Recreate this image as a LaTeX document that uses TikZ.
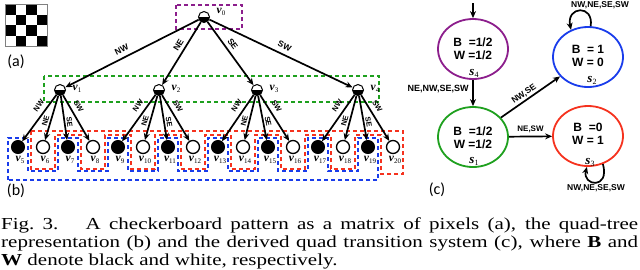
\documentclass[tikz,border=0pt]{standalone}
\usepackage{fontspec}
\setmainfont{Liberation Serif}
\newfontfamily\lsans{Liberation Sans}
\newfontfamily\carl{Carlito}
\usetikzlibrary{arrows.meta,shapes.geometric}
\definecolor{cpurple}{RGB}{140,30,140}
\definecolor{cgreen}{RGB}{30,160,30}
\definecolor{cblue}{RGB}{25,60,235}
\definecolor{cred}{RGB}{245,50,30}
\newcommand{\vlab}[1]{{\fontsize{11.5}{11.5}\selectfont\bfseries\itshape v}\raisebox{-1.8pt}{\fontsize{7}{7}\selectfont #1}}
\newcommand{\slab}[1]{{\fontsize{13}{13}\selectfont\bfseries\itshape s}\raisebox{-2pt}{\fontsize{8}{8}\selectfont #1}}
\tikzset{
  edgearr/.style={-{Stealth[length=7pt,width=6pt]}, line width=1.7pt},
  lbl/.style={font=\lsans\bfseries\fontsize{8.5}{8.5}\selectfont, sloped, above=1pt, inner sep=0.5pt},
  slbl/.style={font=\lsans\bfseries\fontsize{7.5}{7.5}\selectfont, sloped, above=1pt, inner sep=0.5pt},
  innernode/.style={circle, draw, line width=1pt, fill=white, minimum size=11pt, inner sep=0pt,
     path picture={\fill[black] (path picture bounding box.west) rectangle (path picture bounding box.south east);}},
  bleaf/.style={circle, draw, line width=1pt, fill=black, minimum size=13pt, inner sep=0pt},
  wleaf/.style={circle, draw, line width=1.3pt, fill=white, minimum size=13pt, inner sep=0pt},
  dbox/.style={dash pattern=on 4pt off 3pt, line width=1.8pt},
  state/.style={ellipse, draw, line width=1.8pt, minimum width=70pt, minimum height=60pt, inner sep=0pt},
  stxt/.style={align=center, font=\lsans\bfseries\fontsize{12}{13}\selectfont, inner sep=0pt},
  tlbl/.style={font=\lsans\bfseries\fontsize{8.5}{8.5}\selectfont, inner sep=0.5pt},
  plbl/.style={font=\carl\fontsize{16}{16}\selectfont, inner sep=0pt},
  vtxt/.style={inner sep=0pt}
}
\begin{document}
\begin{tikzpicture}[x=1pt,y=-1pt]
\useasboundingbox (0,0) rectangle (640,269);
% (a) checkerboard
\foreach \r in {0,...,3}{
  \foreach \c in {0,...,3}{
    \pgfmathtruncatemacro\s{\r+\c}
    \ifodd\s\else
      \fill[black] (5+10.5*\c,4+10.5*\r) rectangle ++(10.5,10.5);
    \fi
  }
}
\draw[gray, line width=0.6pt] (5,4) rectangle (47,46);
\node[plbl] (la) at (16,62) {(a)};
% dashed boxes
\draw[dbox, cpurple] (176,5) rectangle (242,29);
\draw[dbox, cgreen] (44,76) rectangle (379,102);
\draw[dbox, cblue] (8,180) -- (8,138) -- (28,138) -- (28,171) -- (58,171) -- (58,138) -- (78,138) -- (78,171) -- (108,171) -- (108,138) -- (128,138) -- (128,171) -- (158,171) -- (158,138) -- (178,138) -- (178,171) -- (208,171) -- (208,138) -- (228,138) -- (228,171) -- (258,171) -- (258,138) -- (278,138) -- (278,171) -- (308,171) -- (308,138) -- (328,138) -- (328,171) -- (358,171) -- (358,138) -- (378,138) -- (378,180) -- cycle;
\draw[dbox, cred] (31,131) -- (403,131) -- (403,174) -- (381,174) -- (381,135) -- (355,135) -- (355,169) -- (331,169) -- (331,135) -- (305,135) -- (305,169) -- (281,169) -- (281,135) -- (255,135) -- (255,169) -- (231,169) -- (231,135) -- (205,135) -- (205,169) -- (181,169) -- (181,135) -- (155,135) -- (155,169) -- (131,169) -- (131,135) -- (105,135) -- (105,169) -- (81,169) -- (81,135) -- (55,135) -- (55,169) -- (31,169) -- cycle;
% tree nodes
\node[innernode] (v0) at (204,17) {};
\node[vtxt] (l0) at (221,12) {\vlab{0}};
\node[innernode] (v1) at (60,90) {};
\node[innernode] (v2) at (159,90) {};
\node[innernode] (v3) at (257,90) {};
\node[innernode] (v4) at (358,90) {};
\foreach \i/\x in {1/60,2/159,3/257,4/358}{
  \node[vtxt] (l\i) at (\x+17,89) {\vlab{\i}};
}
\foreach \i in {5,...,20}{
  \ifodd\i\def\lst{bleaf}\else\def\lst{wleaf}\fi
  \node[\lst] (v\i) at (18+25*\i-125,147) {};
  \node[vtxt] (l\i) at (20+25*\i-125,160) {\vlab{\i}};
}
% top edges
\draw[edgearr] (v0) -- node[lbl,pos=.55,above=3pt]{NW} (v1);
\draw[edgearr] (v0) -- node[lbl,pos=.42,above=2pt]{NE} (v2);
\draw[edgearr] (v0) -- node[lbl,pos=.42,above=2pt]{SE} (v3);
\draw[edgearr] (v0) -- node[lbl,pos=.5,above=3pt]{SW} (v4);
% second level edges
\foreach \p in {1,...,4}{
  \pgfmathtruncatemacro\ca{4*\p+1}
  \pgfmathtruncatemacro\cb{4*\p+2}
  \pgfmathtruncatemacro\cc{4*\p+3}
  \pgfmathtruncatemacro\cd{4*\p+4}
  \draw[edgearr] (v\p) -- node[slbl,pos=.33,above=3pt]{NW} (v\ca);
  \draw[edgearr] (v\p) -- node[slbl,pos=.6]{NE} (v\cb);
  \draw[edgearr] (v\p) -- node[slbl,pos=.6]{SE} (v\cc);
  \draw[edgearr] (v\p) -- node[slbl,pos=.33,above=3pt]{SW} (v\cd);
}
\node[plbl] (lb) at (16,191) {(b)};
% (c) transition system
\node[state, draw=cpurple] (s4) at (473,49) {};
\node[state, draw=cgreen] (s1) at (473,137) {};
\node[state, draw=cblue] (s2) at (588,57) {};
\node[state, draw=cred] (s3) at (588,136) {};
\node[stxt] (t4) at (473,49) {B\ \ =1/2\\W =1/2};
\node[stxt] (t1) at (473,138) {B\ \ =1/2\\W =1/2};
\node[stxt] (t2) at (588,56) {B\ \ = 1\\W = 0};
\node[stxt] (t3) at (588,134) {B\ \ =0\\W = 1};
\node[vtxt] (ls4) at (474,73) {\slab{4}};
\node[vtxt] (ls1) at (474,161) {\slab{1}};
\node[vtxt] (ls2) at (592,80) {\slab{2}};
\node[vtxt] (ls3) at (590,162) {\slab{3}};
\coordinate (start) at (473,3);
\draw[edgearr] (start) -- (s4);
\draw[edgearr] (s4) -- node[tlbl, pos=.35, left=3pt, font=\lsans\bfseries\fontsize{9}{9}\selectfont]{NE,NW,SE,SW} (s1);
\draw[edgearr] (s1) -- node[tlbl, sloped, above=1pt, pos=.45]{NW,SE} (s2);
\draw[edgearr] (s1) -- node[tlbl, above=2pt, font=\lsans\bfseries\fontsize{8}{8}\selectfont]{NE,SW} (s3);
\draw[edgearr] (s2.85) .. controls (594,4) and (566,6) .. (s2.122);
\node[tlbl] (lp2) at (600,5) {NW,NE,SE,SW};
\draw[edgearr] (s3.-62) .. controls (610,190) and (582,186) .. (s3.-92);
\node[tlbl] (lp3) at (596,188) {NW,NE,SE,SW};
\node[plbl] (lc) at (437,190) {(c)};
% caption
\node[anchor=base west, inner sep=0pt] (cap1) at (1,229.5) {\scalebox{1}[0.8]{\fontsize{21}{21}\selectfont\makebox[637pt][s]{Fig.~3.\hspace{1.3em}A checkerboard pattern as a matrix of pixels (a), the quad-tree}}};
\node[anchor=base west, inner sep=0pt] (cap2) at (1,247.5) {\scalebox{1}[0.8]{\fontsize{21}{21}\selectfont\makebox[637pt][s]{representation (b) and the derived quad transition system (c), where \textbf{B} and}}};
\node[anchor=base west, inner sep=0pt] (cap3) at (1,265.5) {\scalebox{1}[0.8]{\fontsize{21}{21}\selectfont \textbf{W} denote black and white, respectively.}};
\end{tikzpicture}
\end{document}
